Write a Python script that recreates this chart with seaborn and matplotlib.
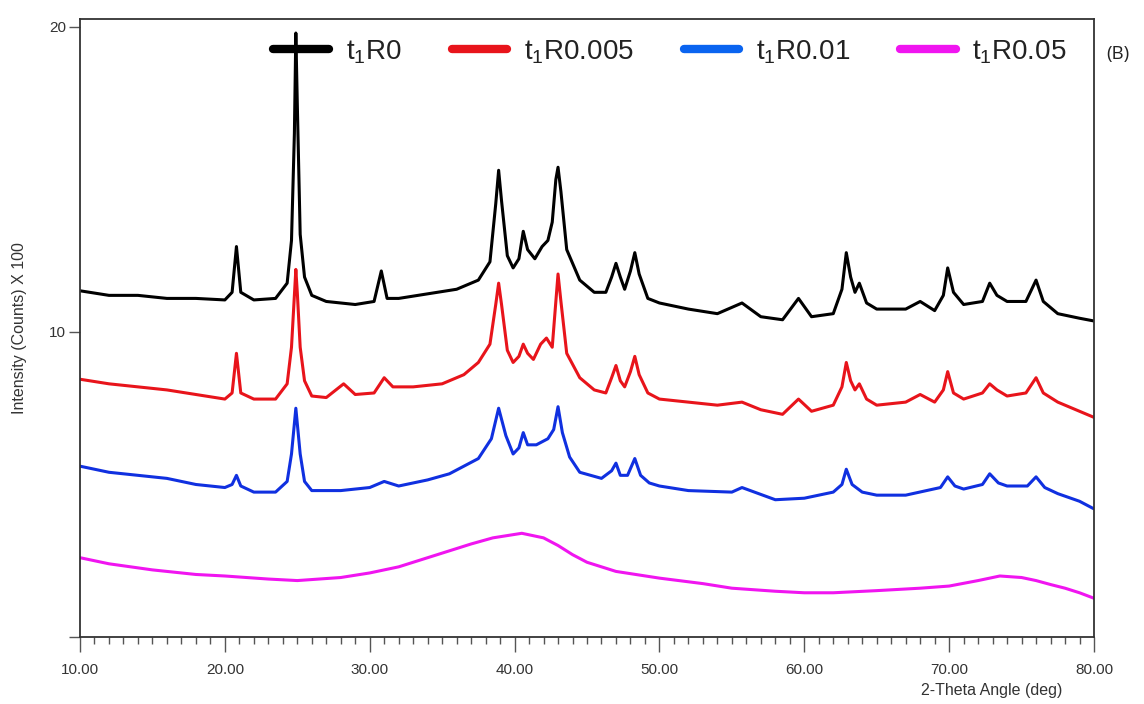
import numpy as np
import pandas as pd
import seaborn as sns
import matplotlib
matplotlib.use("Agg")
import matplotlib.pyplot as plt
from matplotlib.lines import Line2D

# ---- data (2-theta in deg, intensity in counts x 100) ----
labels = ["t$_1$R0", "t$_1$R0.005", "t$_1$R0.01", "t$_1$R0.05"]
colors = ["#000000", "#e8141b", "#1030e0", "#f015f0"]
legend_colors = ["#000000", "#e8141b", "#0a64f0", "#f015f0"]

x_r0 = [10, 12, 14, 16, 18, 20, 20.5, 20.8, 21.1, 22, 23.5, 24.3, 24.6, 24.8, 24.9, 25.0, 25.2, 25.5, 26,
        27, 28, 29, 30.3, 30.8, 31.2, 32, 34, 36, 37.5, 38.3, 38.7, 38.9, 39.1, 39.5, 39.9, 40.3, 40.6,
        40.9, 41.4, 41.9, 42.3, 42.6, 42.85, 43.0, 43.2, 43.6, 44.5, 45.5, 46.3, 46.7, 47.0, 47.3,
        47.6, 48.0, 48.3, 48.6, 49.2, 50, 52, 54, 55.7, 57, 58.5, 59.6, 60.5, 62, 62.6, 62.9, 63.2,
        63.5, 63.8, 64.3, 65, 67, 68, 69, 69.6, 69.9, 70.3, 71, 72.3, 72.8, 73.3, 74, 75.3, 76.0,
        76.5, 77.5, 79, 80]
y_r0 = [11.35, 11.2, 11.2, 11.1, 11.1, 11.05, 11.3, 12.8, 11.3, 11.05, 11.1, 11.6, 13.0, 16.5, 19.8, 17.5,
        13.2, 11.8, 11.2, 11.0, 10.95, 10.9, 11.0, 12.0, 11.1, 11.1, 11.25, 11.4, 11.7, 12.3, 14.2, 15.3,
        14.3, 12.5, 12.1, 12.4, 13.3, 12.7, 12.4, 12.8, 13.0, 13.6, 15.0, 15.4, 14.6, 12.7, 11.7, 11.3,
        11.3, 11.8, 12.25, 11.8, 11.4, 12.0, 12.6, 11.9, 11.1, 10.95, 10.75, 10.6, 10.95, 10.5, 10.4,
        11.1, 10.5, 10.6, 11.4, 12.6, 11.8, 11.3, 11.6, 10.95, 10.75, 10.75, 11.0, 10.7, 11.2, 12.1,
        11.3, 10.9, 11.0, 11.6, 11.2, 11.0, 11.0, 11.7, 11.0, 10.6, 10.45, 10.36]

x_r005 = [10, 12, 14, 16, 18, 20, 20.5, 20.8, 21.1, 22, 23.5, 24.3, 24.6, 24.8, 24.9, 25.0, 25.2, 25.5, 26,
          27, 28.2, 29, 30.3, 31.0, 31.6, 33, 35, 36.5, 37.5, 38.3, 38.7, 38.9, 39.1, 39.5, 39.9, 40.3, 40.6,
          40.9, 41.3, 41.8, 42.2, 42.6, 42.85, 43.0, 43.2, 43.6, 44.5, 45.5, 46.3, 46.7, 47.0, 47.3,
          47.6, 48.0, 48.3, 48.6, 49.2, 50, 52, 54, 55.7, 57, 58.5, 59.6, 60.5, 62, 62.6, 62.9, 63.2,
          63.5, 63.8, 64.3, 65, 67, 68, 69, 69.6, 69.9, 70.3, 71, 72.3, 72.8, 73.3, 74, 75.3, 76.0,
          76.5, 77.5, 79, 80]
y_r005 = [8.45, 8.3, 8.2, 8.1, 7.95, 7.8, 8.0, 9.3, 8.0, 7.8, 7.8, 8.3, 9.5, 11.2, 12.05, 11.3,
          9.5, 8.4, 7.9, 7.85, 8.3, 7.95, 8.0, 8.5, 8.2, 8.2, 8.3, 8.6, 9.0, 9.6, 10.9, 11.6,
          10.9, 9.4, 9.0, 9.2, 9.6, 9.3, 9.1, 9.6, 9.8, 9.5, 11.0, 11.9, 11.0, 9.3, 8.5, 8.1,
          8.0, 8.5, 8.9, 8.4, 8.2, 8.7, 9.2, 8.6, 8.0, 7.8, 7.7, 7.6, 7.7, 7.45, 7.3,
          7.8, 7.4, 7.6, 8.2, 9.0, 8.4, 8.1, 8.3, 7.8, 7.6, 7.7, 7.95, 7.7, 8.1, 8.7,
          8.0, 7.8, 8.0, 8.3, 8.1, 7.9, 8.0, 8.5, 8.0, 7.7, 7.4, 7.2]

x_r001 = [10, 12, 14, 16, 18, 20, 20.5, 20.8, 21.1, 22, 23.5, 24.3, 24.6, 24.9, 25.2, 25.5, 26,
          28, 30, 31, 32, 34, 35.5, 37.5, 38.4, 38.9, 39.4, 39.9, 40.3, 40.6, 40.9, 41.5, 42.3,
          42.7, 43.0, 43.3, 43.8, 44.5, 46, 46.7, 47.0, 47.3, 47.8, 48.3, 48.7, 49.3, 50, 52, 55,
          55.7, 58, 60, 62, 62.6, 62.9, 63.3, 64, 65, 67, 69.4, 69.9, 70.4, 71, 72.3, 72.8, 73.4,
          74, 75.4, 76.0, 76.6, 77.5, 79, 80]
y_r001 = [5.6, 5.4, 5.3, 5.2, 5.0, 4.9, 5.0, 5.3, 4.95, 4.75, 4.75, 5.1, 6.0, 7.5, 6.0, 5.1, 4.8,
          4.8, 4.9, 5.1, 4.95, 5.15, 5.35, 5.85, 6.5, 7.5, 6.6, 6.0, 6.2, 6.7, 6.3, 6.3, 6.5,
          6.8, 7.55, 6.7, 5.9, 5.4, 5.2, 5.45, 5.7, 5.3, 5.3, 5.85, 5.3, 5.05, 4.95, 4.8, 4.75,
          4.9, 4.5, 4.55, 4.75, 5.0, 5.5, 5.0, 4.75, 4.65, 4.65, 4.9, 5.25, 4.95, 4.85, 5.0, 5.35,
          5.05, 4.95, 4.95, 5.25, 4.9, 4.7, 4.45, 4.2]

x_r05 = [10, 12, 15, 18, 20, 23, 25, 28, 30, 32, 35, 37, 38.5, 40.5, 42, 43, 44, 45, 47, 50, 53, 55,
         58, 60, 62, 65, 68, 70, 72, 73.5, 75, 76, 77, 78, 79, 80]
y_r05 = [2.6, 2.4, 2.2, 2.05, 2.0, 1.9, 1.85, 1.95, 2.1, 2.3, 2.75, 3.05, 3.25, 3.4, 3.25, 3.0, 2.7,
         2.45, 2.15, 1.93, 1.75, 1.6, 1.5, 1.45, 1.45, 1.52, 1.6, 1.67, 1.85, 2.0, 1.95, 1.85,
         1.72, 1.6, 1.45, 1.27]

series_x = [x_r0, x_r005, x_r001, x_r05]
series_y = [y_r0, y_r005, y_r001, y_r05]

x_ticks = [10, 20, 30, 40, 50, 60, 70, 80]
x_tick_labels = ["10.00", "20.00", "30.00", "40.00", "50.00", "60.00", "70.00", "80.00"]
y_ticks = [0, 10, 20]
y_tick_labels = ["", "10", "20"]

# ---- plotting ----
sns.set_theme(style="white")
plt.rcParams["font.family"] = ["Liberation Sans", "DejaVu Sans"]
plt.rcParams["mathtext.fontset"] = "custom"
plt.rcParams["mathtext.rm"] = "Liberation Sans"
plt.rcParams["mathtext.it"] = "Liberation Sans"

fig = plt.figure(figsize=(11.44, 7.04), dpi=100)
ax = fig.add_axes([80 / 1144, 67 / 704, 1014 / 1144, 618 / 704])

frames = []
for lab, xs, ys in zip(labels, series_x, series_y):
    frames.append(pd.DataFrame({"theta": xs, "intensity": ys, "sample": lab}))
df = pd.concat(frames, ignore_index=True)

sns.lineplot(data=df, x="theta", y="intensity", hue="sample", hue_order=labels,
             palette=colors, estimator=None, sort=False, linewidth=2.2, legend=False, ax=ax)

ax.set_xlim(10, 80)
ax.set_ylim(0.07, 20.26)
ax.set_xticks(x_ticks)
ax.set_xticklabels(x_tick_labels, fontsize=11, color="#333333")
ax.set_xticks(np.arange(10, 81, 1), minor=True)
ax.set_yticks(y_ticks)
ax.set_yticklabels(y_tick_labels, fontsize=11, color="#333333")
ax.tick_params(axis="x", which="major", direction="out", length=11, width=1, color="#555555", bottom=True, pad=8)
ax.tick_params(axis="x", which="minor", direction="out", length=5, width=1, color="#555555", bottom=True)
ax.tick_params(axis="y", which="major", direction="out", length=8, width=1, color="#555555", left=True, pad=2)

for s in ["left", "bottom", "top", "right"]:
    ax.spines[s].set_visible(True)
    ax.spines[s].set_color("#333333")
    ax.spines[s].set_linewidth(1.3)

ax.set_xlabel("")
ax.set_ylabel("Intensity (Counts) X 100", fontsize=11.5, color="#333333")
ax.yaxis.set_label_coords(-0.052, 0.5)
fig.text(1062 / 1144, 1 - 690 / 704, "2-Theta Angle (deg)", fontsize=11.5, color="#333333",
         ha="right", va="center")
fig.text(1106 / 1144, 1 - 54 / 704, "(B)", fontsize=13.5, color="#222222", ha="left", va="center",
         family=["Open Sans", "DejaVu Sans"])

handles = [Line2D([0], [0], color=c, lw=6) for c in legend_colors]
ax.legend(handles, labels, loc="center", bbox_to_anchor=(0.582, 0.947), ncol=4, frameon=False,
          fontsize=20, handlelength=2.0, handletextpad=0.6, columnspacing=1.8,
          labelcolor="#222222", borderpad=0.1)

fig.savefig("out.png", dpi=100)
